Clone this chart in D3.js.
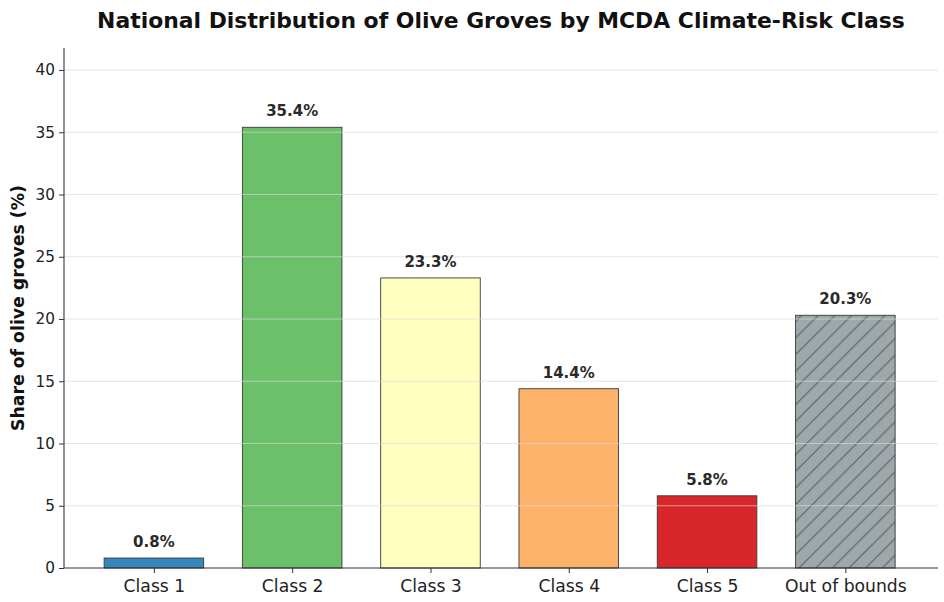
<!DOCTYPE html>
<html><head><meta charset="utf-8">
<script src="https://cdn.jsdelivr.net/npm/d3@7"></script>
<style>body{margin:0;background:#fff}svg{display:block}text{font-family:"DejaVu Sans",sans-serif}</style>
</head><body><svg id="c" width="944" height="602"></svg>
<script>
const categories = ["Class 1","Class 2","Class 3","Class 4","Class 5","Out of bounds"];
const shares = [0.8, 35.4, 23.3, 14.4, 5.8, 20.3];
const colors = ["#3288bd","#6cc06a","#ffffc0","#fdb26a","#d9262a","#9ea8ab"];
const hatched = [false,false,false,false,false,true];
const yTicks = [0,5,10,15,20,25,30,35,40];

const svg = d3.select("#c");
const L=64, R=938, T=48, B=568;
const x = d3.scaleLinear().domain([-0.65, 5.67]).range([L,R]);
const y = d3.scaleLinear().domain([0, 41.77]).range([B,T]);
const bw = 0.72;

const hs = 16.67;
const defs = svg.append("defs");
const pat = defs.append("pattern").attr("id","hatch").attr("patternUnits","userSpaceOnUse")
  .attr("width",hs).attr("height",hs).attr("y", 0);
pat.append("rect").attr("width",hs).attr("height",hs).attr("fill",colors[5]);
pat.append("path").attr("d",`M-1,${hs+1} L${hs+1},-1 M${-hs/2},${hs/2} L${hs/2},${-hs/2} M${hs/2},${hs*1.5} L${hs*1.5},${hs/2}`)
  .attr("stroke","#566064").attr("stroke-width",1.1);

// bars
svg.selectAll("rect.bar").data(shares).join("rect").attr("class","bar")
  .attr("x",(d,i)=>x(i-bw/2)).attr("width",x(bw)-x(0))
  .attr("y",d=>y(d)).attr("height",d=>y(0)-y(d))
  .attr("fill",(d,i)=>hatched[i]?"url(#hatch)":colors[i])
  .attr("stroke","#3a3a3a").attr("stroke-width",0.9);

// grid on top
svg.append("g").selectAll("line").data(yTicks.filter(t=>t>0)).join("line")
  .attr("x1",L).attr("x2",R).attr("y1",d=>y(d)).attr("y2",d=>y(d))
  .attr("stroke","#d8d8d8").attr("stroke-opacity",0.75).attr("stroke-width",0.9);

// axes
const ya = svg.append("g").attr("transform",`translate(${L},0)`)
  .call(d3.axisLeft(y).tickValues(yTicks).tickSize(5).tickPadding(4));
ya.select(".domain").remove();
ya.selectAll("text").attr("font-size",15.3).attr("fill","#222").attr("font-family","DejaVu Sans");
ya.selectAll("line").attr("stroke","#333");
const xa = svg.append("g").attr("transform",`translate(0,${B})`)
  .call(d3.axisBottom(x).tickValues(d3.range(categories.length)).tickFormat(i=>categories[i]).tickSize(5).tickPadding(7));
xa.select(".domain").remove();
xa.selectAll("text").attr("font-size",17.2).attr("fill","#222").attr("font-family","DejaVu Sans");
xa.selectAll("line").attr("stroke","#333");
svg.append("line").attr("x1",L).attr("x2",L).attr("y1",T).attr("y2",B).attr("stroke","#333").attr("stroke-width",1.1);
svg.append("line").attr("x1",L).attr("x2",R).attr("y1",B).attr("y2",B).attr("stroke","#333").attr("stroke-width",1.1);

// value labels
svg.selectAll("text.val").data(shares).join("text").attr("class","val")
  .attr("x",(d,i)=>x(i)).attr("y",d=>y(d)-11).attr("text-anchor","middle")
  .attr("font-size",15).attr("font-weight","bold").attr("fill","#2a2a2a")
  .text(d=>d.toFixed(1)+"%");

// title
svg.append("text").attr("x",(L+R)/2).attr("y",28).attr("text-anchor","middle")
  .attr("font-size",21.9).attr("font-weight","bold").attr("fill","#111")
  .text("National Distribution of Olive Groves by MCDA Climate-Risk Class");
// y label
svg.append("text").attr("transform",`translate(24,${(T+B)/2}) rotate(-90)`).attr("text-anchor","middle")
  .attr("font-size",17.3).attr("font-weight","bold").attr("fill","#111")
  .text("Share of olive groves (%)");
</script></body></html>
